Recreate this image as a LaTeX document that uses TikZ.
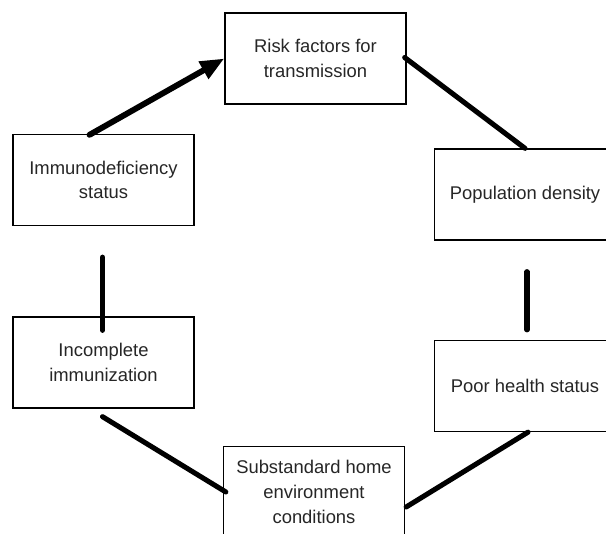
\documentclass[tikz,border=0pt]{standalone}
\usepackage{fontspec}
\setmainfont{Liberation Sans}
\usetikzlibrary{arrows.meta,calc}
\begin{document}
\begin{tikzpicture}[x=0.75pt,y=-0.75pt,
  box/.style={draw=black,line width=1pt,minimum width=135.75pt,minimum height=68.25pt,
    align=center,inner sep=0pt,text=black!85,font=\fontsize{13.8}{18.5}\selectfont},
  conn/.style={line width=3.8pt,line cap=round,draw=black}]
\clip (0,0) rectangle (606,534);
\fill[white] (0,0) rectangle (606,534);
\node[box] (risk) at (315.5,58.5) {Risk factors for\\transmission};
\node[box] (imm) at (103.5,180) {Immunodeficiency\\status};
\node[box] (pop) at (525,194.5) {Population density};
\node[box] (inc) at (103.5,362.5) {Incomplete\\immunization};
\node[box] (poor) at (525,386) {Poor health status};
\node[box] (sub) at (314,492) {Substandard home\\environment\\conditions};
\draw[conn,line width=4.4pt,-{Triangle[length=18pt,width=14pt]}] ($(imm.north)+(-14,1)$) -- (risk.west);
\draw[conn] ($(risk.east)+(-2,-1)$) -- (pop.north);
\draw[conn] ($(imm.south)+(-1,31)$) -- ($(inc.north)+(-1,14)$);
\draw[conn] ($(pop.south)+(2,31)$) -- ($(poor.north)+(2,-10)$);
\draw[conn] ($(inc.south)+(-1,8)$) -- ($(sub.west)+(3,0)$);
\draw[conn] ($(poor.south)+(3,0)$) -- ($(sub.east)+(1,15)$);
\end{tikzpicture}
\end{document}
